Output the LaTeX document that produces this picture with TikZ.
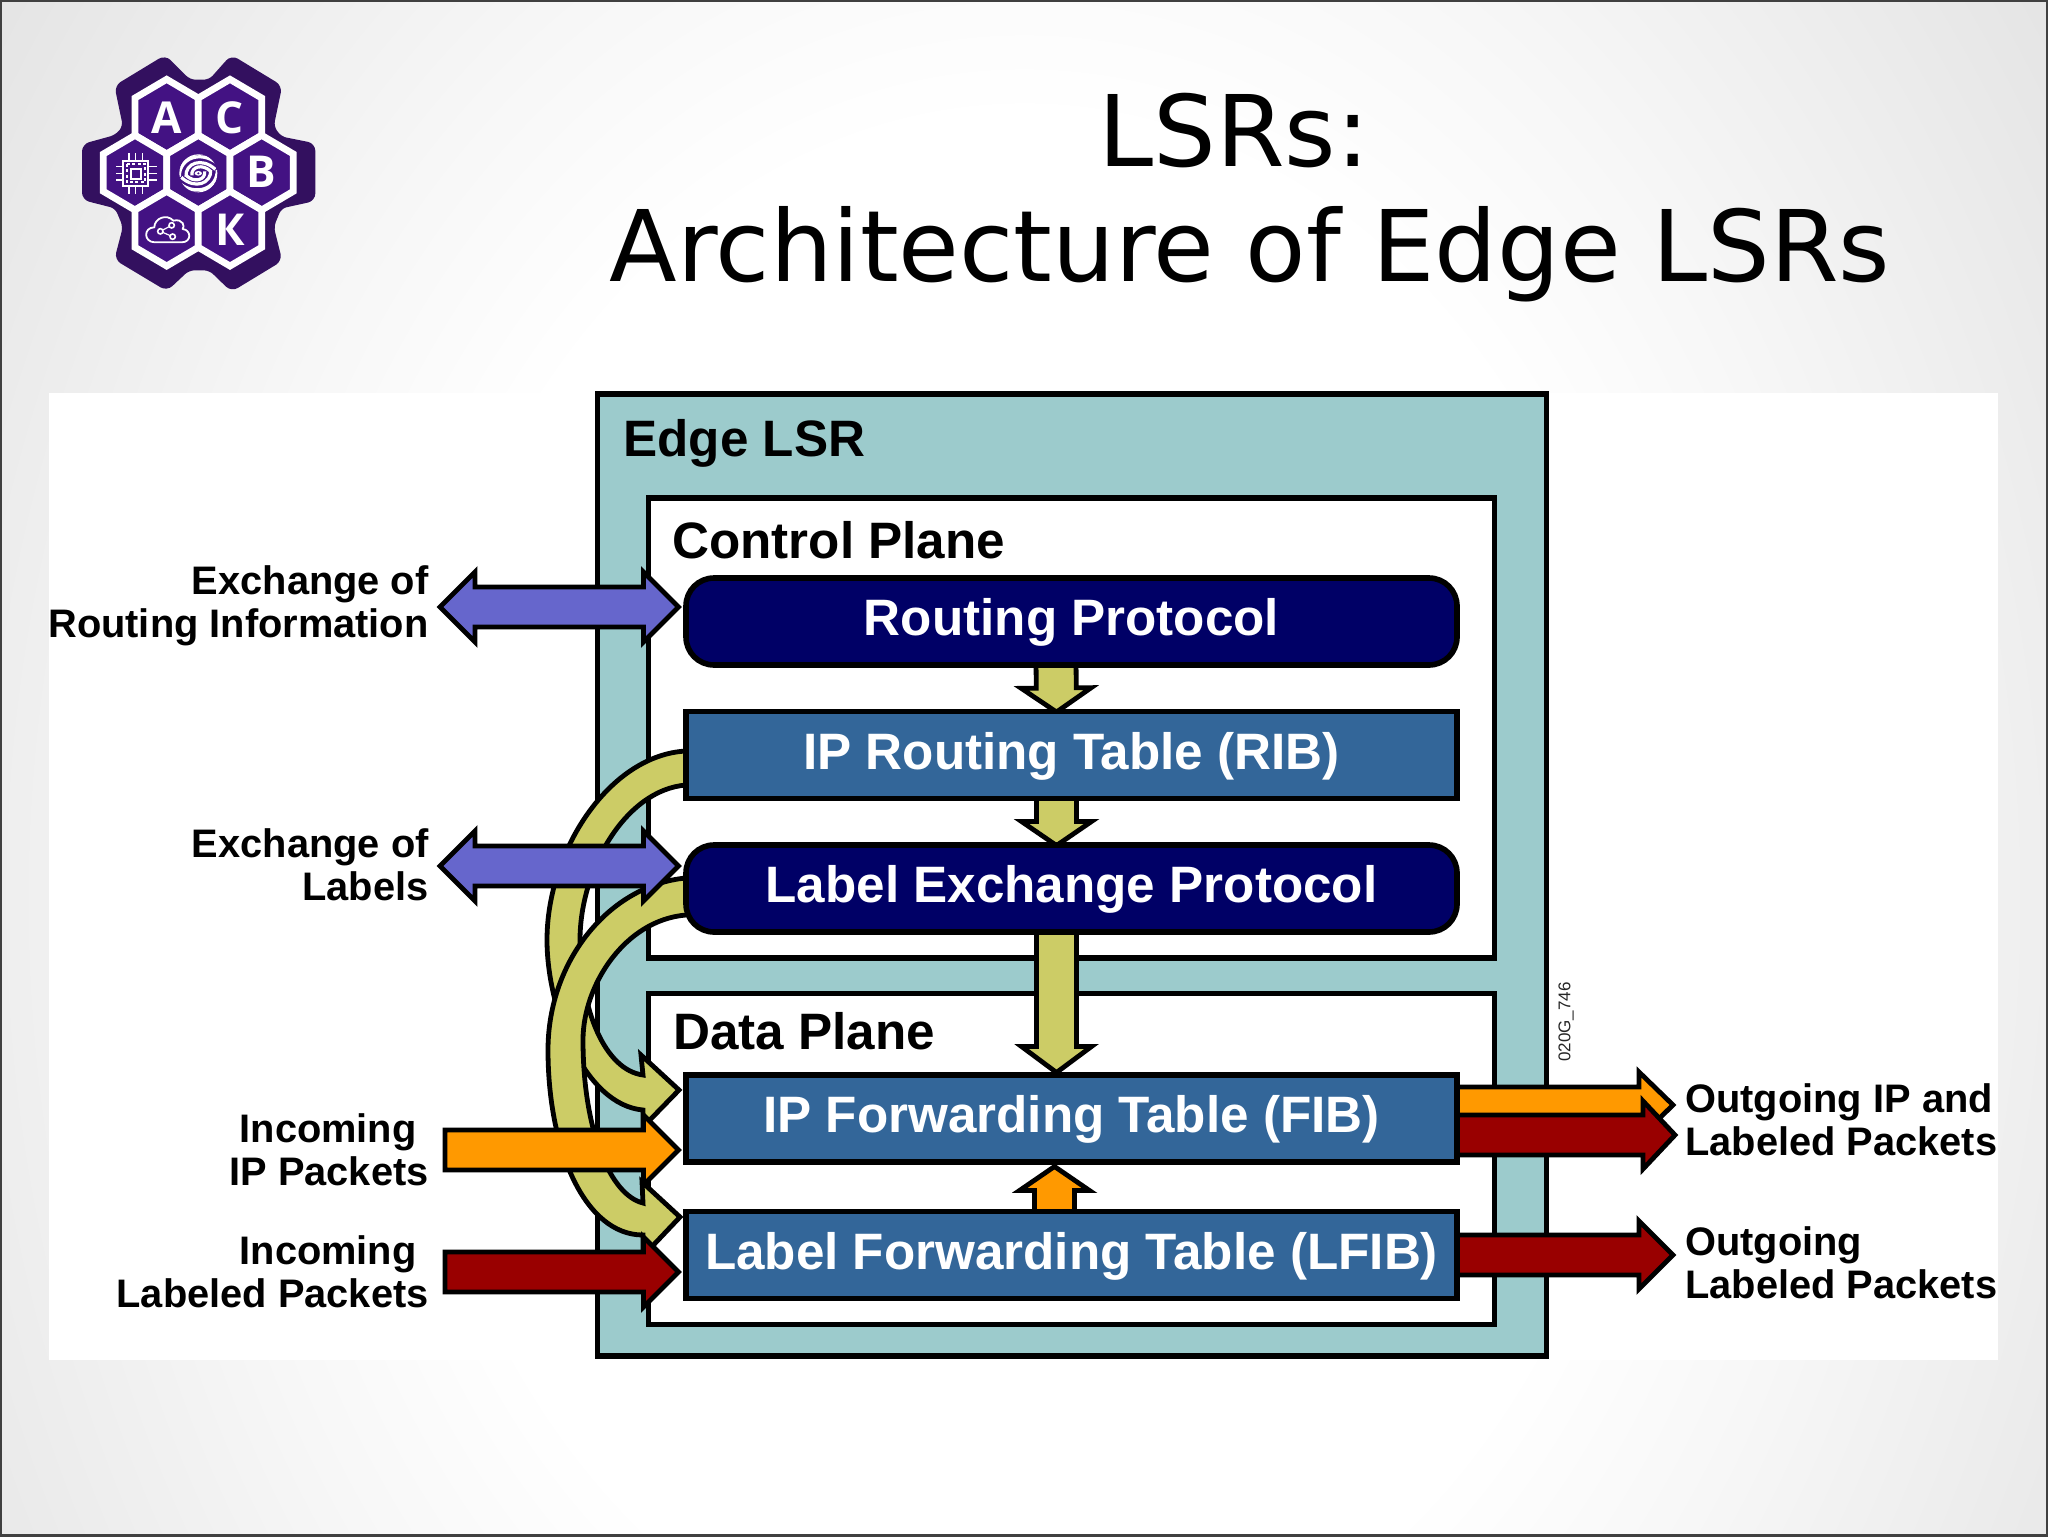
\documentclass[tikz,border=0pt]{standalone}
\usepackage{fontspec}
\setmainfont{Liberation Sans}
\newfontfamily\titlefont{DejaVu Sans}
\newfontfamily\logofont{Open Sans}
\usetikzlibrary{calc}
\definecolor{tealbox}{HTML}{9CCBCC}
\definecolor{navybox}{HTML}{000066}
\definecolor{bluebox}{HTML}{336699}
\definecolor{olivearrow}{HTML}{CCCC66}
\definecolor{orangearrow}{HTML}{FF9900}
\definecolor{redarrow}{HTML}{990000}
\definecolor{purplearrow}{HTML}{6666CC}
\definecolor{logodark}{HTML}{33105F}
\definecolor{logomid}{HTML}{431283}
\pgfdeclareradialshading{slidebg}{\pgfpoint{0bp}{0bp}}{%
  color(0bp)=(white); color(15bp)=(white); color(20bp)=(white!97!black); color(27bp)=(white!92!black); color(35.5bp)=(white!86!black); color(42bp)=(white!80!black); color(60bp)=(white!75!black); color(100bp)=(white!75!black)}
\tikzset{
  fatline/.style={draw=black,line width=2.4pt,line join=miter,miter limit=6},
  panel/.style={draw=black,line width=2.8pt,minimum width=#1,inner sep=0pt,outer sep=0pt,rectangle},
  tablebox/.style={draw=black,line width=2.8pt,fill=bluebox,text=white,minimum width=385.5pt,minimum height=43.5pt,inner sep=0pt,outer sep=0pt,
     font=\bfseries\fontsize{25.6}{29}\selectfont,text height=17pt,text depth=3pt},
  protobox/.style={tablebox,fill=navybox,rounded corners=14pt},
  sidelabel/.style={inner sep=0pt,font=\bfseries\fontsize{19.9}{21.5}\selectfont},
  planelabel/.style={inner sep=0pt,anchor=base west,font=\bfseries\fontsize{25.6}{29}\selectfont},
  logohex/.style={draw=white,line width=3.4pt,fill=logomid,line join=miter},
  logoletter/.style={inner sep=0pt,text=white,font=\logofont\bfseries\fontsize{22}{24}\selectfont},
  logoline/.style={draw=white,line width=0.6pt}
}
\newcommand{\FatArrow}[6]{%
  \coordinate (fam) at ($(#2)!#6!(#1)$);
  \draw[fatline,fill=#3] ($(#1)!#4!90:(#2)$) -- ($(fam)!#4!90:(#2)$) -- ($(fam)!#5!90:(#2)$) -- (#2)
     -- ($(fam)!#5!-90:(#2)$) -- ($(fam)!#4!-90:(#2)$) -- ($(#1)!#4!-90:(#2)$) -- cycle;}
\newcommand{\DoubleArrow}[6]{%
  \coordinate (fam) at ($(#2)!#6!(#1)$);
  \coordinate (fan) at ($(#1)!#6!(#2)$);
  \draw[fatline,fill=#3] (#1) -- ($(fan)!#5!-90:(#1)$) -- ($(fan)!#4!-90:(#1)$) -- ($(fam)!#4!90:(#2)$) -- ($(fam)!#5!90:(#2)$) -- (#2)
     -- ($(fam)!#5!-90:(#2)$) -- ($(fam)!#4!-90:(#2)$) -- ($(fan)!#4!90:(#1)$) -- ($(fan)!#5!90:(#1)$) -- cycle;}
\newcommand{\LogoHex}[2]{\draw[logohex] (#1,#2) ++(0,-112) -- ++(95,56) -- ++(0,112) -- ++(-95,56) -- ++(-95,-56) -- ++(0,-112) -- cycle;}
\begin{document}
\begin{tikzpicture}[x=0.5pt,y=-0.5pt]
\useasboundingbox (0,0) rectangle (2048,1536);
% background
\begin{scope}
\clip (0,0) rectangle (2048,1536);
\shade[shading=slidebg] (0,-400) rectangle (2048,2200);
\end{scope}
\draw[line width=1.2pt,draw=black!75] (0.5,0.5) rectangle (2047.5,1535.5);
\fill[white] (49,393) rectangle (1998,1360);
% title
\node[inner sep=0pt,align=center,font=\titlefont\fontsize{49.4}{57.5}\selectfont] (title) at (1250,200.5) {\strut LSRs:\hspace*{16pt}\\\strut Architecture of Edge LSRs};
% logo
\begin{scope}[shift={(60,30)},scale=1/3]
\fill[logodark,draw=logodark,line width=2pt,rounded corners=3pt] (315,82) -- (388,155) -- (450,155) -- (515,82) -- (660,170) -- (635,290) -- (660,325) -- (760,345) -- (760,508) -- (660,530) -- (635,590) -- (660,690) -- (515,778) -- (450,715) -- (385,715) -- (320,776) -- (170,686) -- (195,590) -- (170,530) -- (72,505) -- (72,347) -- (170,320) -- (195,290) -- (170,170) -- cycle;
\LogoHex{320}{260}\LogoHex{510}{260}\LogoHex{225}{428}\LogoHex{415}{428}\LogoHex{605}{428}\LogoHex{320}{596}\LogoHex{510}{596}
\node[logoletter] (logoA) at (320,262) {А};
\node[logoletter] (logoC) at (510,262) {С};
\node[logoletter] (logoB) at (605,425) {В};
\node[logoletter] (logoK) at (510,600) {К};
% chip
\draw[logoline,line width=0.9pt] (190,392) rectangle (265,467);
\draw[logoline,line width=0.9pt] (213,416) rectangle (243,446);
\draw[white,line width=1pt,dash pattern=on 1.5pt off 1.2pt] (200,402) rectangle (255,457);
\foreach \d in {-20,0,20}{
  \draw[logoline] (227+\d,392) -- (227+\d,368);
  \draw[logoline] (227+\d,467) -- (227+\d,491);
  \draw[logoline] (190,430+\d) -- (167,430+\d);
  \draw[logoline] (265,430+\d) -- (290,430+\d);
}
% swirl
\begin{scope}
\clip (415,430) circle (57);
\foreach \r in {0,180}{
 \begin{scope}[rotate around={\r:(415,430)}]
  \draw[white,line width=1.6pt] (358,440) .. controls (358,385) and (420,360) .. (472,400);
  \draw[white,line width=1.6pt] (378,440) .. controls (375,400) and (425,380) .. (466,418);
  \draw[white,line width=1.6pt] (396,436) .. controls (392,410) and (428,400) .. (452,424);
  \draw[white,line width=1.6pt] (358,410) .. controls (380,372) and (420,362) .. (450,376);
 \end{scope}}
\end{scope}
\fill[white] (415,430) ellipse (11 and 7);
\fill[logomid] (415,430) circle (3.5);
% cloud
\draw[logoline,line width=0.9pt,line join=round] (285,637) .. controls (250,637) and (250,592) .. (283,592) .. controls (283,565) and (320,550) .. (340,572) .. controls (370,565) and (375,590) .. (368,597) .. controls (395,600) and (395,637) .. (365,637) -- cycle;
\draw[logoline] (301,604) -- (335,586) (301,604) -- (338,620);
\foreach \p in {(301,604),(335,586),(338,620)}{\draw[logoline,fill=logomid,line width=0.8pt] \p circle (8);}
\end{scope}
% panels
\node[panel=474.5pt,fill=tealbox,minimum height=481pt] (edgelsr) at (1072,875) {};
\node[panel=423pt,fill=white,minimum height=230pt] (control) at (1071.5,728) {};
\node[panel=423pt,fill=white,minimum height=165.5pt] (data) at (1071.5,1159) {};
% coordinates of the boxes (nodes drawn last, over the arrow roots)
\coordinate (routingC) at (1071.5,621.5);
\coordinate (ribC) at (1071.5,755);
\coordinate (lepC) at (1071.5,888.5);
\coordinate (fibC) at (1071.5,1118.5);
\coordinate (lfibC) at (1071.5,1255);
% curved arrows
\draw[fatline,fill=olivearrow] (686,751) .. controls (610,755) and (547,850) .. (547,940) .. controls (547,1010) and (585,1105) .. (643,1110) -- (643,1127) -- (679,1090) -- (641,1055) -- (643,1075) .. controls (605,1070) and (580,1010) .. (580,940) .. controls (580,870) and (625,790) .. (686,785);
\draw[fatline,fill=olivearrow] (686,878) .. controls (610,885) and (548,960) .. (548,1050) .. controls (548,1150) and (585,1235) .. (643,1235) -- (643,1256) -- (680,1217) -- (642,1182) -- (643,1203) .. controls (610,1195) and (583,1130) .. (583,1040) .. controls (583,985) and (625,920) .. (686,915);
% vertical arrows
\FatArrow{$(routingC)+(-15.5,40)$}{$(ribC)+(-15,-43)$}{olivearrow}{10pt}{17.5pt}{12pt}
\FatArrow{$(ribC)+(-15,40)$}{$(lepC)+(-15,-43)$}{olivearrow}{10pt}{17.5pt}{12pt}
\FatArrow{$(lepC)+(-15,40)$}{$(fibC)+(-15,-46)$}{olivearrow}{10pt}{17.5pt}{13pt}
\FatArrow{$(lfibC)+(-17,-40)$}{$(fibC)+(-17,48)$}{orangearrow}{10pt}{17.5pt}{12pt}
% left arrows
\coordinate (inRoutL) at (440,607);
\coordinate (inLabL) at (440,866);
\coordinate (inIPL) at (445,1150);
\coordinate (inLblL) at (445,1272);
\DoubleArrow{inRoutL}{$(routingC)+(-393,-14.5)$}{purplearrow}{10pt}{17.5pt}{17.5pt}
\DoubleArrow{inLabL}{$(lepC)+(-393,-22.5)$}{purplearrow}{10pt}{17.5pt}{17.5pt}
\FatArrow{inIPL}{$(fibC)+(-393,31.5)$}{orangearrow}{10pt}{17.5pt}{17.5pt}
\FatArrow{inLblL}{$(lfibC)+(-393,17)$}{redarrow}{10pt}{17.5pt}{17.5pt}
% right arrows
\coordinate (outA) at (1673,1105);
\coordinate (outB) at (1675,1135);
\coordinate (outC) at (1673,1255);
\FatArrow{$(fibC)+(380,-13.5)$}{outA}{orangearrow}{9pt}{16.5pt}{17pt}
\FatArrow{$(fibC)+(380,16.5)$}{outB}{redarrow}{10pt}{17pt}{16pt}
\FatArrow{$(lfibC)+(380,0)$}{outC}{redarrow}{10pt}{17pt}{17pt}
% boxes
\node[protobox] (routing) at (routingC) {Routing Protocol};
\node[tablebox] (rib) at (ribC) {IP Routing Table (RIB)};
\node[protobox] (lep) at (lepC) {Label Exchange Protocol};
\node[tablebox] (fib) at (fibC) {IP Forwarding Table (FIB)};
\node[tablebox] (lfib) at (lfibC) {Label Forwarding Table (LFIB)};
% plane labels
\node[planelabel] (edgetxt) at (623,456) {Edge LSR};
\node[planelabel] (controltxt) at (672,558) {Control Plane};
\node[planelabel] (datatxt) at (673,1049) {Data Plane};
% side labels
\node[sidelabel,anchor=east,align=right] (lblRoute) at (429,607.5) {\strut Exchange of\\\strut Routing Information};
\node[sidelabel,anchor=east,align=right] (lblLabels) at (429,870.5) {\strut Exchange of\\\strut Labels};
\node[sidelabel,anchor=east,align=right] (lblIP) at (429,1155) {\strut Incoming\hspace*{6pt}\\\strut IP Packets};
\node[sidelabel,anchor=east,align=right] (lblInLab) at (429,1277) {\strut Incoming\hspace*{6pt}\\\strut Labeled Packets};
\node[sidelabel,anchor=west,align=left] (lblOutA) at (1685,1125.5) {\strut Outgoing IP and\\\strut Labeled Packets};
\node[sidelabel,anchor=west,align=left] (lblOutB) at (1685,1268.5) {\strut Outgoing\\\strut Labeled Packets};
\node[inner sep=0pt,rotate=90,font=\fontsize{8.5}{10}\selectfont,text=black!85] (code) at (1566,1022) {020G\_746};
\end{tikzpicture}
\end{document}
